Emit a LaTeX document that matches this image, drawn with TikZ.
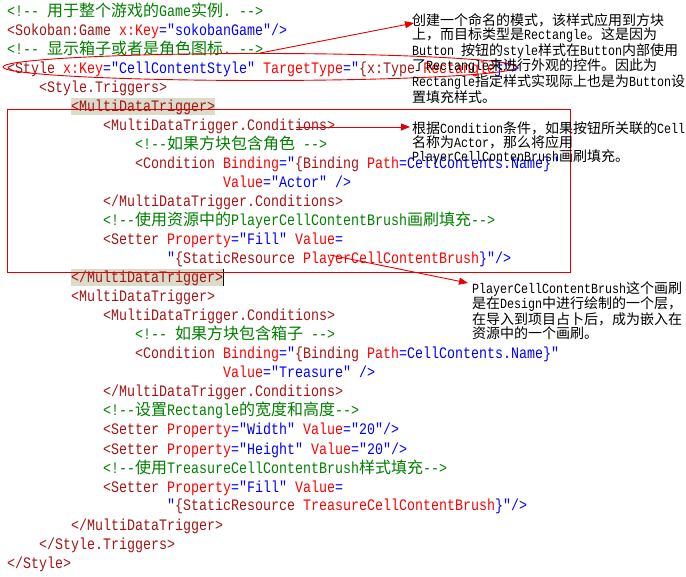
\documentclass[tikz,border=0pt]{standalone}
\usepackage{fontspec}
\newfontfamily\codefont[FakeStretch=0.8333,Ligatures=TeXOff]{Liberation Mono}
\newfontfamily\cjk{Noto Sans CJK SC}
\usetikzlibrary{%
  positioning
 ,arrows.meta
 ,shapes.geometric
}
\definecolor{xmlname}{RGB}{163,21,21}
\definecolor{xmlattr}{RGB}{255,0,0}
\definecolor{xmlval}{RGB}{0,0,255}
\definecolor{xmlcom}{RGB}{0,128,0}
\definecolor{brace}{RGB}{219,219,204}
\definecolor{pen}{RGB}{228,0,0}
\newcommand\zh[1]{{\cjk #1}}
\newcommand\xtag[1]{\textcolor{xmlname}{#1}}
\newcommand\xattr[1]{\textcolor{xmlattr}{#1}}
\newcommand\xval[1]{\textcolor{xmlval}{#1}}
\newcommand\xcom[1]{\textcolor{xmlcom}{#1}}
\newcommand\codesize{\fontsize{16}{19}\selectfont\codefont\frenchspacing}
\newcommand\notesize{\fontsize{14}{14.2}\selectfont\codefont\frenchspacing}
\tikzset{
  codeline/.style={anchor=base west,inner sep=0pt,font=\codesize},
  matched/.style={codeline,fill=brace,text height=14pt,text depth=3pt},
  notebox/.style={anchor=north west,inner sep=0pt,align=left,font=\notesize},
  redpen/.style={draw=pen,line width=0.9pt},
  pointer/.style={redpen,-{Triangle[length=9pt,width=7pt]}},
}

\begin{document}
\begin{tikzpicture}[x=1pt,y=-1pt]
  \fill[white] (0,0) rectangle (686,577);
  \useasboundingbox (0,0) rectangle (686,577);
  % the listing
  \node[codeline] (l1) at (7,17) {\xcom{<!-- \zh{用于整个游戏的}Game\zh{实例}. -->}};
  \node[codeline] (l2) at (7,36) {\xtag{<Sokoban:Game} \xattr{x:Key}\xval{="sokobanGame"/>}};
  \node[codeline] (l3) at (7,55) {\xcom{<!-- \zh{显示箱子或者是角色图标}. -->}};
  \node[codeline] (l4) at (7,74) {\xtag{<Style} \xattr{x:Key}\xval{="CellContentStyle"} \xattr{TargetType}\xval{="}\xtag{\{x:Type} \xattr{Rectangle}\xval{\}">}};
  \node[codeline] (l5) at (39,93) {\xtag{<Style.Triggers>}};
  \node[matched] (l6) at (71,112) {\xtag{<MultiDataTrigger>}};
  \node[codeline] (l7) at (103,131) {\xtag{<MultiDataTrigger.Conditions>}};
  \node[codeline] (l8) at (135,150) {\xcom{<!--\zh{如果方块包含角色} -->}};
  \node[codeline] (l9) at (135,169) {\xtag{<Condition} \xattr{Binding}\xval{="}\xtag{\{Binding} \xattr{Path}\xval{=CellContents.Name\}"}};
  \node[codeline] (l10) at (223,188) {\xattr{Value}\xval{="Actor" />}};
  \node[codeline] (l11) at (103,207) {\xtag{</MultiDataTrigger.Conditions>}};
  \node[codeline] (l12) at (103,226) {\xcom{<!--\zh{使用资源中的}PlayerCellContentBrush\zh{画刷填充}-->}};
  \node[codeline] (l13) at (103,245) {\xtag{<Setter} \xattr{Property}\xval{="Fill"} \xattr{Value}\xval{=}};
  \node[codeline] (l14) at (167,264) {\xval{"}\xtag{\{StaticResource} \xattr{PlayerCellContentBrush}\xval{\}"/>}};
  \node[matched] (l15) at (71,283) {\xtag{</MultiDataTrigger>}};
  \node[codeline] (l16) at (71,302) {\xtag{<MultiDataTrigger>}};
  \node[codeline] (l17) at (103,321) {\xtag{<MultiDataTrigger.Conditions>}};
  \node[codeline] (l18) at (135,340) {\xcom{<!-- \zh{如果方块包含箱子} -->}};
  \node[codeline] (l19) at (135,359) {\xtag{<Condition} \xattr{Binding}\xval{="}\xtag{\{Binding} \xattr{Path}\xval{=CellContents.Name\}"}};
  \node[codeline] (l20) at (223,378) {\xattr{Value}\xval{="Treasure" />}};
  \node[codeline] (l21) at (103,397) {\xtag{</MultiDataTrigger.Conditions>}};
  \node[codeline] (l22) at (103,416) {\xcom{<!--\zh{设置}Rectangle\zh{的宽度和高度}-->}};
  \node[codeline] (l23) at (103,435) {\xtag{<Setter} \xattr{Property}\xval{="Width"} \xattr{Value}\xval{="20"/>}};
  \node[codeline] (l24) at (103,454) {\xtag{<Setter} \xattr{Property}\xval{="Height"} \xattr{Value}\xval{="20"/>}};
  \node[codeline] (l25) at (103,473) {\xcom{<!--\zh{使用}TreasureCellContentBrush\zh{样式填充}-->}};
  \node[codeline] (l26) at (103,492) {\xtag{<Setter} \xattr{Property}\xval{="Fill"} \xattr{Value}\xval{=}};
  \node[codeline] (l27) at (167,511) {\xval{"}\xtag{\{StaticResource} \xattr{TreasureCellContentBrush}\xval{\}"/>}};
  \node[codeline] (l28) at (71,530) {\xtag{</MultiDataTrigger>}};
  \node[codeline] (l29) at (39,549) {\xtag{</Style.Triggers>}};
  \node[codeline] (l30) at (7,568) {\xtag{</Style>}};
  % caret
  \draw[line width=1pt] (l15.north east) -- (l15.south east);
  % red marks
  \node[ellipse,redpen,minimum width=514pt,minimum height=27pt,inner sep=0pt] (sel) at (260,67) {};
  \draw[redpen] (7,109) rectangle (570,272);
  \coordinate (cond) at (296,127);
  \coordinate (brush) at (330,255);
  % notes
  \node[notebox] (note1) at (412,13) {\zh{创建一个命名的模式，该样式应用到方块}\\
    \zh{上，而目标类型是}Rectangle\zh{。这是因为}\\
    Button \zh{按钮的}style\zh{样式在}Button\zh{内部使用}\\
    \zh{了}Rectangle\zh{来进行外观的控件。因此为}\\
    Rectangle\zh{指定样式实现际上也是为}Button\zh{设}\\
    \zh{置填充样式。}};
  \node[notebox] (note2) at (412,121) {\zh{根据}Condition\zh{条件，如果按钮所关联的}Cell\\
    \zh{名称为}Actor\zh{，那么将应用}\\
    PlayerCellContenBrush\zh{画刷填充。}};
  \node[notebox] (note3) at (472,281) {PlayerCellContentBrush\zh{这个画刷}\\
    \zh{是在}Design\zh{中进行绘制的一个层，}\\
    \zh{在导入到项目占卜后，成为嵌入在}\\
    \zh{资源中的一个画刷。}};
  \draw[pointer] (sel.north) -- ([xshift=2pt,yshift=-10pt]note1.north west);
  \draw[pointer] (cond) -- ([xshift=-2pt,yshift=-6pt]note2.north west);
  \draw[pointer] (brush) -- ([xshift=-4pt,yshift=-2pt]note3.north west);
\end{tikzpicture}
\end{document}
